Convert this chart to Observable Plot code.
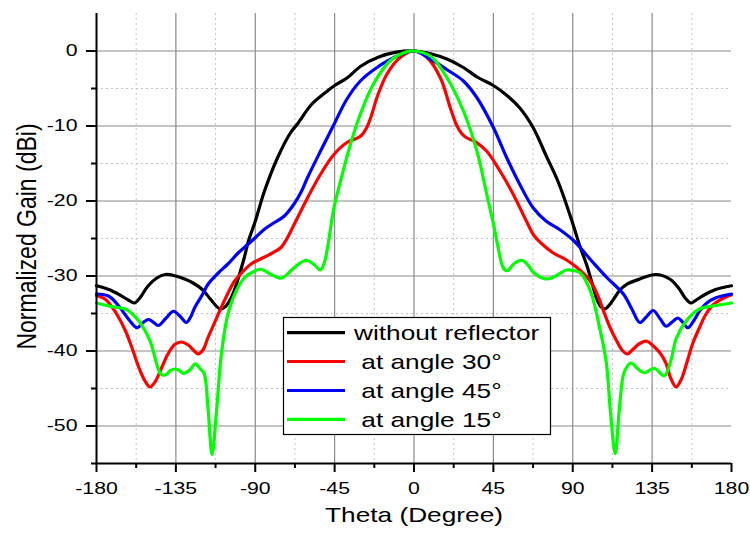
<!DOCTYPE html>
<html>
<head>
<meta charset="utf-8">
<script src="https://cdn.jsdelivr.net/npm/d3@7"></script>
<script src="https://cdn.jsdelivr.net/npm/@observablehq/plot@0.6"></script>
<style>
  html, body { margin: 0; padding: 0; background: white; }
  #wrap { position: relative; width: 750px; height: 533px; overflow: hidden; }
  #legend { position: absolute; left: 0; top: 0; }
</style>
</head>
<body>
<div id="wrap"></div>
<script>
// ---- data ----
const seriesNames = ["without reflector", " at angle 30°", " at angle 45°", " at angle 15°"];
const seriesColors = ["#000000", "#ff0000", "#0000ff", "#00ff00"];

const thetaBlack = [-180,-173,-167,-162,-158.5,-155,-151,-146,-141,-135,-130,-125.5,-120,-115,-110,-107,-104.5,-102,-99.5,-96.5,-93.8,-90,-84.8,-77.3,-70,-66,-58,-50,-45,-38,-30,-20,-10,0,
  10,19,28,36,45,52,60,67.5,75,82,90,94,98,101,103.7,106,108.4,111,114,117,120.6,128,137,145,150,154,157,160,164,171,180];
const gainBlack = [-31.3,-31.8,-32.5,-33.2,-33.6,-32.8,-31.4,-30.3,-29.8,-30.0,-30.4,-30.9,-31.8,-33.2,-34.4,-34.1,-33.3,-32.0,-30.2,-27.8,-25.3,-22.7,-18.7,-14.2,-10.9,-9.7,-7.1,-5.5,-4.6,-3.6,-2.0,-0.8,-0.15,0,
  -0.4,-1.1,-2.2,-3.5,-4.6,-5.8,-7.6,-10.2,-14.0,-17.6,-23.0,-26.0,-28.6,-31.0,-33.1,-34.1,-34.4,-33.8,-32.8,-31.8,-31.1,-30.4,-29.8,-30.4,-31.6,-33.0,-33.6,-33.2,-32.6,-31.8,-31.3];

const thetaRed = [-180,-175,-171,-167.5,-163.6,-160,-156,-152.5,-149.6,-146.5,-143,-139.5,-135.5,-131.8,-128,-125,-122.4,-119.5,-116.8,-113,-109.3,-105.5,-101.8,-97,-92.4,-85,-80,-75.4,-72,-67.9,-60.4,-52.9,-45.4,-38,-33,-30,-27,-24,-21,-15.4,-8,0,
  7.5,15,20.6,24,27,30,34,41,48.75,56.25,63.75,68,72,78.75,86,92.5,100,104,107.5,111,115,118,121,124,128,132,135.5,139.3,142.8,145.5,148.5,151.5,155,158,161.8,165,169.3,175,180];
const gainRed = [-32.6,-33.1,-34.2,-35.5,-37.3,-39.5,-42.2,-44.0,-44.8,-44.0,-42.2,-40.4,-39.1,-38.8,-39.2,-39.9,-40.4,-39.8,-38.2,-36.2,-34.2,-32.3,-30.7,-29.4,-28.4,-27.5,-26.9,-26.2,-25.0,-23.1,-19.6,-16.4,-13.8,-12.2,-11.7,-11.3,-10.3,-8.5,-6.2,-3.1,-0.9,0,
  -0.9,-3.6,-7.6,-9.8,-11.0,-11.6,-12.0,-13.3,-16.0,-19.1,-22.7,-24.6,-25.6,-26.9,-27.8,-28.9,-30.7,-32.5,-34.7,-36.8,-38.7,-39.9,-40.4,-39.8,-39.0,-38.7,-39.3,-40.2,-41.6,-43.6,-44.8,-43.8,-41.3,-39.0,-36.9,-35.3,-33.9,-33.0,-32.5];

const thetaBlue = [-180,-173,-167.4,-161.7,-157,-153.5,-150.5,-147.5,-145,-140.5,-136.4,-132.5,-129,-126.5,-124.3,-120,-116.8,-111,-105.5,-100,-94.3,-90,-85,-80,-73.5,-68,-64,-60.4,-52.9,-45.4,-38,-30.4,-21,-11.6,0,
  9.4,18.75,28,35.6,45,52.5,60,67.5,75,82.5,90.6,100,109.3,118.7,123.5,128,131.5,135.6,139.5,143,146.5,149.6,152.5,155.3,158.5,161.8,166,171.2,180];
const gainBlue = [-32.4,-32.7,-34.0,-35.8,-36.9,-36.2,-35.8,-36.2,-36.6,-35.6,-34.7,-35.4,-36.2,-35.4,-34.2,-32.5,-31.1,-29.6,-28.4,-27.0,-25.8,-24.9,-23.8,-23.0,-22.0,-20.4,-18.8,-16.9,-13.3,-9.8,-6.4,-4.0,-2.2,-0.9,0,
  -1.1,-2.5,-4.0,-6.2,-10.2,-14.2,-17.8,-20.9,-22.7,-23.8,-25.3,-27.8,-30.2,-32.4,-34.4,-36.2,-35.5,-34.6,-35.7,-36.7,-36.1,-35.6,-36.2,-36.9,-36.0,-34.7,-33.6,-32.9,-32.4];

const thetaGreen = [-180,-171,-163.6,-160,-156,-152.5,-149.6,-147.5,-145.8,-143.5,-141,-138,-135.5,-133,-130.6,-127,-124,-121.5,-119,-116.8,-114.5,-112.1,-109.3,-105.5,-100,-96,-92.4,-87,-81,-75.4,-72,-68,-61.3,-57,-53,-50.8,-49,-45.4,-41.6,-36,-30.4,-23,-13.5,-4,0,
  9.4,18.75,28,35.6,41.25,45,47.5,50.6,52.8,57,61,64.5,68,75.5,81,86.5,91,94.3,100,105.6,109,111.5,114.1,116.5,119.2,123,126.5,130.5,136.2,141.9,145.7,148.7,154.3,161.8,169.3,180];
const gainGreen = [-33.6,-34.1,-34.4,-35.0,-36.0,-37.3,-38.7,-40.3,-41.8,-43.1,-43.2,-42.6,-42.4,-42.6,-43.0,-42.5,-41.7,-42.3,-43.0,-47.6,-53.8,-48.4,-40.6,-35.1,-31.6,-30.2,-29.6,-29.1,-29.8,-30.3,-29.8,-28.9,-27.9,-28.4,-29.2,-28.2,-26.2,-20.9,-17.3,-12.4,-8.4,-4.4,-1.3,-0.1,0,
  -0.7,-3.6,-8.0,-13.3,-19.1,-23.0,-26.0,-28.9,-29.3,-28.3,-27.9,-28.5,-29.6,-30.4,-29.9,-29.2,-29.3,-29.6,-32.0,-37.3,-41.5,-48.5,-53.7,-47.5,-42.8,-41.6,-42.3,-42.9,-42.3,-43.3,-41.2,-38.3,-36.0,-34.4,-34.0,-33.6];

const xMajorTicks = [-180, -135, -90, -45, 0, 45, 90, 135, 180];
const xMinorTicks = [-157.5, -112.5, -67.5, -22.5, 22.5, 67.5, 112.5, 157.5];
const yMajorTicks = [0, -10, -20, -30, -40, -50];
const yMinorTicks = [-5, -15, -25, -35, -45, -55];
const xTitle = "Theta (Degree)";
const yTitle = "Normalized Gain (dBi)";

// ---- build table ----
const thetas = [thetaBlack, thetaRed, thetaBlue, thetaGreen];
const gains = [gainBlack, gainRed, gainBlue, gainGreen];
const rows = [];
seriesNames.forEach((name, i) => {
  thetas[i].forEach((t, j) => rows.push({series: name, theta: t, gain: gains[i][j]}));
});

const FONT = "'Liberation Sans', Arial, Helvetica, sans-serif";

const chart = Plot.plot({
  width: 750,
  height: 533,
  marginLeft: 96,
  marginRight: 19,
  marginTop: 13,
  marginBottom: 70,
  style: {fontFamily: FONT, background: "white", color: "black", overflow: "visible"},
  x: {domain: [-180, 180]},
  y: {domain: [-55, 5]},
  color: {domain: seriesNames, range: seriesColors},
  marks: [
    Plot.gridX({ticks: xMinorTicks, stroke: "#c4c4c4", strokeOpacity: 1, strokeWidth: 1, strokeDasharray: "2,3"}),
    Plot.gridY({ticks: yMinorTicks.filter(d => d > -55), stroke: "#c4c4c4", strokeOpacity: 1, strokeWidth: 1, strokeDasharray: "2,3"}),
    Plot.gridX({ticks: xMajorTicks.filter(d => d > -180 && d < 180), stroke: "#8a8a8a", strokeOpacity: 1, strokeWidth: 1.2}),
    Plot.gridY({ticks: yMajorTicks, stroke: "#8a8a8a", strokeOpacity: 1, strokeWidth: 1.2}),
    Plot.line(rows, {x: "theta", y: "gain", z: "series", stroke: "series", strokeWidth: 3.2, curve: "catmull-rom"}),
    Plot.axisX({ticks: xMajorTicks, tickSize: 9, tickPadding: 9, strokeWidth: 2, fontSize: 17, label: null, tickFormat: d => String(d)}),
    Plot.axisX({ticks: xMinorTicks, tickSize: 5, strokeWidth: 2, text: null, label: null}),
    Plot.axisY({ticks: yMajorTicks, tickSize: 10, tickPadding: 9, strokeWidth: 2, fontSize: 17, label: null, tickFormat: d => String(d)}),
    Plot.axisY({ticks: yMinorTicks, tickSize: 5, strokeWidth: 2, text: null, label: null}),
    Plot.ruleX([-180], {stroke: "black", strokeWidth: 2}),
    Plot.ruleY([-55], {stroke: "black", strokeWidth: 2}),
    Plot.text([xTitle], {text: d => d, frameAnchor: "bottom", textAnchor: "middle", dy: 58, fontSize: 21, fill: "black"}),
    Plot.text([yTitle], {text: d => d, frameAnchor: "left", textAnchor: "middle", dx: -69, dy: -2, rotate: -90, fontSize: 23, fill: "black"})
  ]
});

// horizontal stretch of text to match the reference's wide glyphs
const SX = 1.25;
chart.querySelectorAll("text").forEach(t => {
  const tr = t.getAttribute("transform");
  if (tr) {
    t.setAttribute("transform", tr + (tr.includes("rotate") ? ` scale(1,1.22)` : ` scale(${SX},1)`));
  } else {
    const x = +t.getAttribute("x") || 0, y = +t.getAttribute("y") || 0;
    t.setAttribute("transform", `translate(${x},${y}) scale(${SX},1) translate(${-x},${-y})`);
  }
});

const wrap = document.getElementById("wrap");
wrap.appendChild(chart);

// ---- legend (overlay) ----
const legendRowY = [332.7, 361.5, 390.5, 419.3];
const svg = d3.select(wrap).append("svg")
  .attr("id", "legend")
  .attr("width", 750).attr("height", 533)
  .style("font-family", FONT);
svg.append("rect")
  .attr("x", 283.5).attr("y", 317.5).attr("width", 267).attr("height", 117)
  .attr("fill", "white").attr("stroke", "black").attr("stroke-width", 1.2);
seriesNames.forEach((name, i) => {
  const y = legendRowY[i];
  svg.append("line")
    .attr("x1", 287).attr("x2", 345).attr("y1", y).attr("y2", y)
    .attr("stroke", seriesColors[i]).attr("stroke-width", 3.2);
  svg.append("text")
    .attr("transform", `translate(354,${y}) scale(${SX},1)`)
    .attr("dy", "0.36em")
    .attr("font-size", 21)
    .attr("fill", "black")
    .style("white-space", "pre")
    .attr("xml:space", "preserve")
    .text(name);
});
</script>
</body>
</html>
